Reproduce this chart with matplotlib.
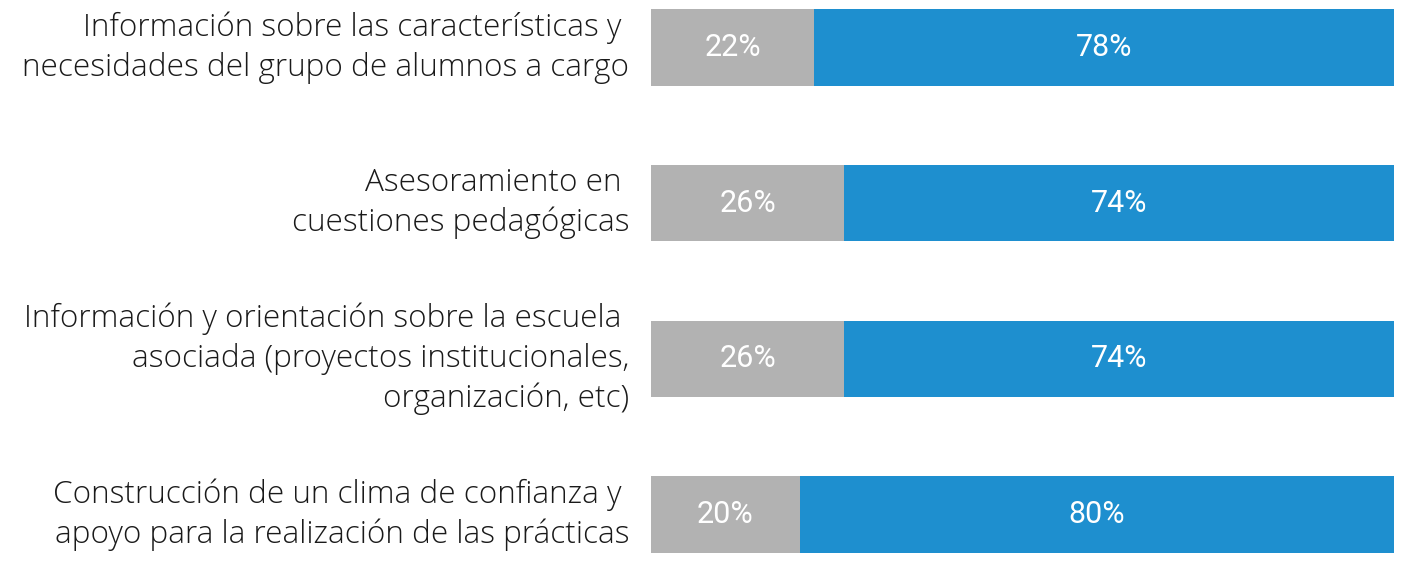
import matplotlib
matplotlib.use("Agg")
import matplotlib.pyplot as plt

categories = [
    "Información sobre las características y \nnecesidades del grupo de alumnos a cargo",
    "Asesoramiento en \ncuestiones pedagógicas",
    "Información y orientación sobre la escuela \nasociada (proyectos institucionales,\norganización, etc)",
    "Construcción de un clima de confianza y \napoyo para la realización de las prácticas",
]
no_vals = [22, 26, 26, 20]
si_vals = [78, 74, 74, 80]

gray = "#B2B2B2"
blue = "#1E8FCF"

fig = plt.figure(figsize=(14.01, 5.63), dpi=100)
ax = fig.add_axes([0.4647, 0, 0.5303, 1])

ypos = list(range(len(categories)))
ax.barh(ypos, no_vals, height=0.49, color=gray)
ax.barh(ypos, si_vals, left=no_vals, height=0.49, color=blue)

for y, a, b in zip(ypos, no_vals, si_vals):
    ax.text(a / 2, y, f"{a}%", ha="center", va="center", color="white",
            fontsize=22, family="Roboto", fontweight="normal")
    ax.text(a + b / 2, y, f"{b}%", ha="center", va="center", color="white",
            fontsize=22, family="Roboto", fontweight="normal")
    ax.text(-2.9, y, categories[y], ha="right", va="center", color="#1a1a1a",
            fontsize=22.7, family="Open Sans", fontweight="light", linespacing=1.32)

ax.set_xlim(0, 100)
ax.set_ylim(3.312, -0.305)
ax.axis("off")

fig.savefig("out.png", dpi=100)
